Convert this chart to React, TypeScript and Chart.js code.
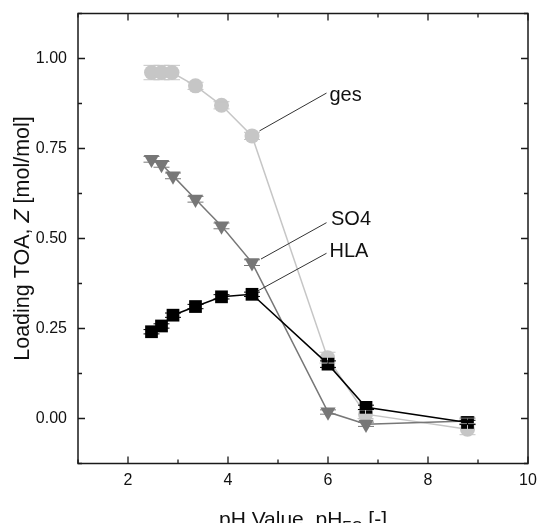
import React, { useEffect, useRef } from "react";
import { Chart, registerables } from "chart.js";

Chart.register(...registerables);

// ---- data ----
const phGes = [2.47, 2.67, 2.88, 3.35, 3.87, 4.48, 5.99, 6.75, 8.79];
const zGes = [0.961, 0.961, 0.961, 0.924, 0.87, 0.785, 0.169, 0.012, -0.03];
const errGes = [0.02, 0.02, 0.02, 0.01, 0.01, 0.01, 0.015, 0.012, 0.015];

const phSO4 = [2.47, 2.67, 2.9, 3.35, 3.87, 4.48, 6.0, 6.76, 8.79];
const zSO4 = [0.72, 0.706, 0.674, 0.609, 0.535, 0.433, 0.018, -0.016, -0.007];
const errSO4 = [0.008, 0.008, 0.008, 0.008, 0.008, 0.008, 0.006, 0.006, 0.008];

const phHLA = [2.47, 2.67, 2.9, 3.35, 3.87, 4.48, 6.0, 6.76, 8.79];
const zHLA = [0.241, 0.257, 0.287, 0.311, 0.338, 0.345, 0.151, 0.031, -0.011];
const errHLA = [0.006, 0.006, 0.006, 0.006, 0.006, 0.006, 0.009, 0.006, 0.006];

const seriesNames = ["ges", "SO4", "HLA"];
const seriesColors = ["#c6c6c6", "#777777", "#000000"];
const seriesStyles = ["circle", "triangle", "rect"];

const xTickValues = [2, 4, 6, 8, 10];
const xMinorValues = [1, 3, 5, 7, 9];
const yTickValues = [0, 0.25, 0.5, 0.75, 1.0];
const yMinorValues = [-0.125, 0.125, 0.375, 0.625, 0.875, 1.125];

// annotation labels: [text x, text baseline y]; leader: [x1, y1, x2, y2]
const labelPos = [
  [6.03, 0.882],
  [6.06, 0.538],
  [6.03, 0.448],
];
const leaderPos = [
  [4.63, 0.799, 5.97, 0.904],
  [4.66, 0.443, 5.97, 0.544],
  [4.59, 0.354, 5.97, 0.459],
];

const FONT = "'Liberation Sans', Arial, Helvetica, sans-serif";

const decor = {
  id: "decor",
  beforeDraw(chart: any) {
    const { ctx, width, height } = chart;
    ctx.save();
    ctx.fillStyle = "#ffffff";
    ctx.fillRect(0, 0, width, height);
    ctx.restore();
  },
  afterDatasetsDraw(chart: any) {
    const { ctx, chartArea: a } = chart;
    const xs = chart.scales.x;
    const ys = chart.scales.y;
    ctx.save();

    // error bars
    const phs = [phGes, phSO4, phHLA];
    const zs = [zGes, zSO4, zHLA];
    const errs = [errGes, errSO4, errHLA];
    for (let s = 0; s < 3; s++) {
      ctx.strokeStyle = seriesColors[s];
      ctx.lineWidth = 1;
      for (let i = 0; i < phs[s].length; i++) {
        const px = xs.getPixelForValue(phs[s][i]);
        const p1 = ys.getPixelForValue(zs[s][i] + errs[s][i]);
        const p2 = ys.getPixelForValue(zs[s][i] - errs[s][i]);
        ctx.beginPath();
        ctx.moveTo(px, p1);
        ctx.lineTo(px, p2);
        ctx.moveTo(px - 8, p1);
        ctx.lineTo(px + 8, p1);
        ctx.moveTo(px - 8, p2);
        ctx.lineTo(px + 8, p2);
        ctx.stroke();
      }
    }

    // frame
    ctx.strokeStyle = "#1a1a1a";
    ctx.lineWidth = 1.5;
    ctx.strokeRect(a.left, a.top, a.right - a.left, a.bottom - a.top);

    // inside ticks, all four sides
    ctx.lineWidth = 1.3;
    ctx.beginPath();
    const tick = (len: number, vals: number[], horiz: boolean) => {
      for (const v of vals) {
        if (horiz) {
          const px = xs.getPixelForValue(v);
          ctx.moveTo(px, a.bottom);
          ctx.lineTo(px, a.bottom - len);
          ctx.moveTo(px, a.top);
          ctx.lineTo(px, a.top + len);
        } else {
          const py = ys.getPixelForValue(v);
          ctx.moveTo(a.left, py);
          ctx.lineTo(a.left + len, py);
          ctx.moveTo(a.right, py);
          ctx.lineTo(a.right - len, py);
        }
      }
    };
    tick(7, xTickValues, true);
    tick(4, xMinorValues, true);
    tick(7, yTickValues, false);
    tick(4, yMinorValues, false);
    ctx.stroke();

    // leader lines
    ctx.strokeStyle = "#333333";
    ctx.lineWidth = 1;
    ctx.beginPath();
    for (const l of leaderPos) {
      ctx.moveTo(xs.getPixelForValue(l[0]), ys.getPixelForValue(l[1]));
      ctx.lineTo(xs.getPixelForValue(l[2]), ys.getPixelForValue(l[3]));
    }
    ctx.stroke();

    // labels
    ctx.fillStyle = "#111111";
    ctx.font = `20px ${FONT}`;
    ctx.textAlign = "left";
    ctx.textBaseline = "alphabetic";
    for (let s = 0; s < 3; s++) {
      ctx.fillText(
        seriesNames[s],
        xs.getPixelForValue(labelPos[s][0]),
        ys.getPixelForValue(labelPos[s][1])
      );
    }

    // y title with italic Z
    const yParts: [string, string][] = [
      ["Loading TOA, ", "normal"],
      ["Z", "italic"],
      [" [mol/mol]", "normal"],
    ];
    const tsize = 21.5;
    let total = 0;
    for (const [t, st] of yParts) {
      ctx.font = `${st} ${tsize}px ${FONT}`;
      total += ctx.measureText(t).width;
    }
    ctx.save();
    ctx.translate(29, (a.top + a.bottom) / 2);
    ctx.rotate(-Math.PI / 2);
    let cx = -total / 2;
    for (const [t, st] of yParts) {
      ctx.font = `${st} ${tsize}px ${FONT}`;
      ctx.fillText(t, cx, 0);
      cx += ctx.measureText(t).width;
    }
    ctx.restore();

    // x title with subscript EQ
    const xParts: [string, number, number][] = [
      ["pH Value, pH", 21, 0],
      ["EQ", 14, 5],
      [" [-]", 21, 0],
    ];
    total = 0;
    for (const [t, sz] of xParts) {
      ctx.font = `${sz}px ${FONT}`;
      total += ctx.measureText(t).width;
    }
    let tx = (a.left + a.right) / 2 - total / 2;
    const baseY = a.bottom + 62;
    for (const [t, sz, off] of xParts) {
      ctx.font = `${sz}px ${FONT}`;
      ctx.fillText(t, tx, baseY + off);
      tx += ctx.measureText(t).width;
    }
    ctx.restore();
  },
};

export default function App() {
  const ref = useRef<HTMLCanvasElement | null>(null);

  useEffect(() => {
    if (!ref.current) return;
    const mk = (ph: number[], z: number[]) => ph.map((v, i) => ({ x: v, y: z[i] }));
    const datasets = [
      { label: seriesNames[2], data: mk(phHLA, zHLA), idx: 2, rot: 0, r: 9 },
      { label: seriesNames[1], data: mk(phSO4, zSO4), idx: 1, rot: 180, r: 8.8 },
      { label: seriesNames[0], data: mk(phGes, zGes), idx: 0, rot: 0, r: 7.5 },
    ].map((d) => ({
      label: d.label,
      data: d.data,
      borderColor: seriesColors[d.idx],
      backgroundColor: seriesColors[d.idx],
      borderWidth: 1.5,
      pointStyle: seriesStyles[d.idx] as any,
      pointRadius: d.r,
      pointRotation: d.rot,
      pointBorderWidth: 0,
      pointBackgroundColor: seriesColors[d.idx],
      showLine: true,
      tension: 0,
      clip: false as any,
    }));

    const tickFont = { family: FONT, size: 16 };
    const chart = new Chart(ref.current, {
      type: "scatter",
      data: { datasets },
      options: {
        animation: false,
        responsive: true,
        maintainAspectRatio: false,
        layout: { padding: { top: 13.5, right: 10, left: 0, bottom: 0 } },
        plugins: { legend: { display: false }, tooltip: { enabled: false } },
        scales: {
          x: {
            type: "linear",
            min: 1,
            max: 10,
            grid: { display: false, drawTicks: false },
            border: { display: false },
            ticks: {
              font: tickFont,
              color: "#111111",
              padding: 7,
              maxRotation: 0,
              autoSkip: false,
              callback: (v: any) => String(v),
            },
            afterBuildTicks: (s: any) => {
              s.ticks = xTickValues.map((v) => ({ value: v }));
            },
            afterFit: (s: any) => {
              s.height = 59.5;
              s.paddingLeft = 0;
              s.paddingRight = 0;
            },
          },
          y: {
            type: "linear",
            min: -0.125,
            max: 1.125,
            grid: { display: false, drawTicks: false },
            border: { display: false },
            ticks: {
              font: tickFont,
              color: "#111111",
              padding: 11,
              autoSkip: false,
              callback: (v: any) => Number(v).toFixed(2),
            },
            afterBuildTicks: (s: any) => {
              s.ticks = yTickValues.map((v) => ({ value: v }));
            },
            afterFit: (s: any) => {
              s.width = 78;
              s.paddingTop = 0;
              s.paddingBottom = 0;
            },
          },
        },
      },
      plugins: [decor],
    });
    return () => chart.destroy();
  }, []);

  return (
    <div style={{ position: "fixed", left: 0, top: 0, width: 538, height: 523, background: "#fff" }}>
      <canvas ref={ref} />
    </div>
  );
}
